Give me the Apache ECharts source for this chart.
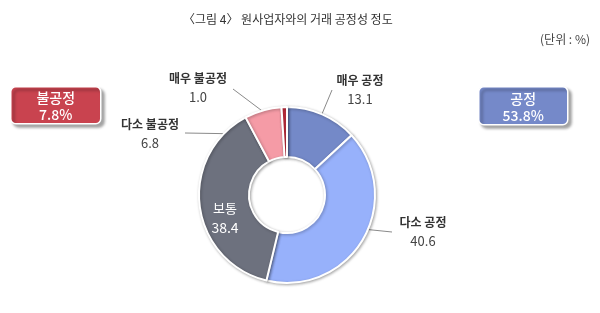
<!DOCTYPE html>
<html><head><meta charset="utf-8">
<script src="https://cdn.jsdelivr.net/npm/echarts@6/dist/echarts.min.js"></script>
<style>html,body{margin:0;padding:0;background:#fff}#c{width:600px;height:313px}</style>
</head><body><div id="c"></div>
<script>
var categories = ['매우 공정', '다소 공정', '보통', '다소 불공정', '매우 불공정'];
var values = [13.1, 40.6, 38.4, 6.8, 1.0];
var summaryNames = ['불공정', '공정'];
var summaryValues = [7.8, 53.8];
var titleText = '〈그림 4〉 원사업자와의 거래 공정성 정도';
var unitText = '(단위 : %)';

var colors = ['#7489c8', '#97b1fb', '#6d717e', '#f59ba6', '#c42e3e'];
var FONT = '"Noto Sans CJK KR", "Noto Sans", sans-serif';
var cx = 287, cy = 195, rIn = 38, rOut = 88;
// label layout (style positions)
var labelPos = [
  {x: 360, y: 90, end: [332, 90], r: 65},
  {x: 423, y: 232, end: [392, 232], r: 63},
  {x: 225, y: 218},
  {x: 150, y: 134, end: [185, 133], r: 63},
  {x: 198, y: 88, end: [233, 89], r: 67}
];
var total = values.reduce(function (a, b) { return a + b; }, 0);
function midAngle(i) {
  var s = 0;
  for (var k = 0; k < i; k++) s += values[k];
  return (s + values[i] / 2) / total * Math.PI * 2;
}
var data = categories.map(function (n, i) {
  var inside = i === 2;
  return {
    name: n, value: values[i],
    itemStyle: {color: colors[i]},
    label: inside ? {position: 'inside', rich: {n: {color: '#fff', fontSize: 13, fontWeight: 'normal', fontFamily: FONT, lineHeight: 20}, v: {color: '#fff', fontSize: 14, fontWeight: 'normal', fontFamily: FONT, lineHeight: 20}}} : {position: 'outside'},
    labelLine: {show: !inside}
  };
});

var chart = echarts.init(document.getElementById('c'), null, {renderer: 'canvas'});
function box(x, y, w, h, color, name, val) {
  return {
    type: 'group', left: x, top: y,
    children: [
      {type: 'rect', shape: {x: 0, y: 0, width: w, height: h, r: 5},
       style: {fill: color, stroke: '#fff', lineWidth: 1.5, shadowColor: 'rgba(0,0,0,0.35)', shadowBlur: 3, shadowOffsetX: 3, shadowOffsetY: 3}},
      {type: 'text', x: w / 2, y: h / 2 + 1, style: {text: name + '\n' + val.toFixed(1) + '%', fill: '#fff', font: '500 14px ' + FONT, align: 'center', verticalAlign: 'middle', lineHeight: 17}}
    ]
  };
}
chart.setOption({
  backgroundColor: '#fff',
  animation: false,
  title: {text: titleText, left: 178, top: 8, textStyle: {fontSize: 12, fontWeight: 'normal', color: '#333', fontFamily: FONT}},
  graphic: [
    {type: 'text', right: 10, top: 33, style: {text: unitText, fill: '#444', font: '12px ' + FONT}},
    box(10, 86, 90, 37, '#c9434f', summaryNames[0], summaryValues[0]),
    box(478, 86, 89, 38, '#7589c9', summaryNames[1], summaryValues[1])
  ],
  series: [{
    type: 'pie',
    center: [cx, cy],
    radius: [rIn, rOut],
    startAngle: 90,
    clockwise: true,
    avoidLabelOverlap: false,
    itemStyle: {borderColor: '#fff', borderWidth: 2, shadowColor: 'rgba(0,0,0,0.3)', shadowBlur: 3, shadowOffsetX: 1, shadowOffsetY: 1},
    label: {
      formatter: function (p) { return '{n|' + p.name + '}\n{v|' + p.value.toFixed(1) + '}'; },
      rich: {
        n: {fontSize: 12, fontWeight: 'bold', color: '#333', fontFamily: FONT, lineHeight: 19},
        v: {fontSize: 13, color: '#444', fontFamily: FONT, lineHeight: 19}
      }
    },
    labelLine: {lineStyle: {color: '#8a8a8a', width: 1}},
    labelLayout: function (p) {
      var L = labelPos[p.dataIndex];
      var res = {x: L.x, y: L.y, align: 'center', verticalAlign: 'middle'};
      if (L.end) {
        var a = midAngle(p.dataIndex);
        var st = [cx + L.r * Math.sin(a), cy - L.r * Math.cos(a)];
        res.labelLinePoints = [st, L.end, L.end];
      }
      return res;
    },
    data: data
  }]
});
</script></body></html>
